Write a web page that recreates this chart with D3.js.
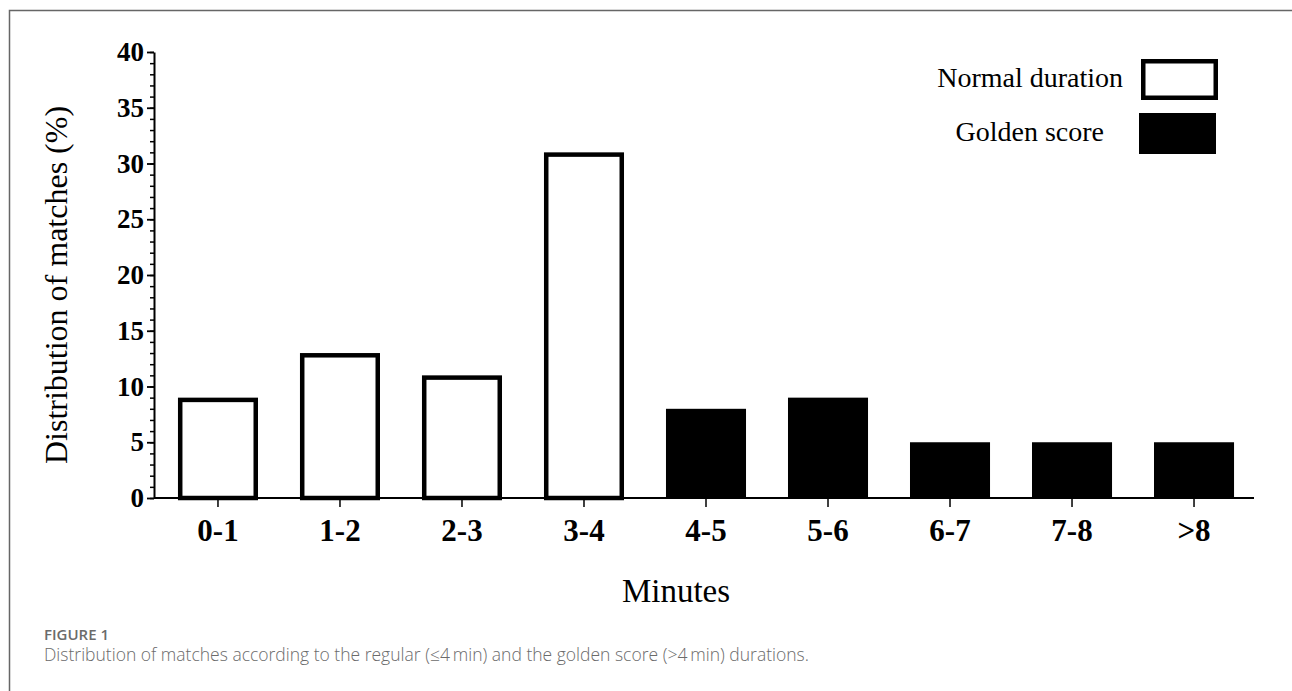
<!DOCTYPE html>
<html>
<head>
<meta charset="utf-8">
<script src="https://cdn.jsdelivr.net/npm/d3@7"></script>
<style>
  body { margin: 0; background: #fff; }
  svg { display: block; }
  .serif { font-family: "Liberation Serif", "Times New Roman", serif; fill: #000; }
  .caption { font-family: "Open Sans", "Noto Sans", sans-serif; }
</style>
</head>
<body>
<svg id="chart" width="1292" height="691"></svg>
<script>
// data
const categories = ["0-1", "1-2", "2-3", "3-4", "4-5", "5-6", "6-7", "7-8", ">8"];
const values = [9, 13, 11, 31, 8, 9, 5, 5, 5];
const groups = ["normal", "normal", "normal", "normal", "golden", "golden", "golden", "golden", "golden"];
const yTicks = [0, 5, 10, 15, 20, 25, 30, 35, 40];
const legendLabels = ["Normal duration", "Golden score"];
const legendKeys = ["normal", "golden"];

const svg = d3.select("#chart");
const BAR_STROKE = 4.5;

// frame (only top and left edges fall inside the picture)
svg.append("path")
  .attr("d", "M9.5,691 V10.5 H1292")
  .attr("fill", "none")
  .attr("stroke", "#666")
  .attr("stroke-width", 1.5);

const x = d3.scaleBand()
  .domain(categories)
  .range([156, 1256])
  .paddingInner(0.344)
  .paddingOuter(0.18);

const y = d3.scaleLinear().domain([0, 40]).range([498, 52]);

const rows = categories.map((c, i) => ({ cat: c, value: values[i], group: groups[i] }));

// bars
svg.append("g")
  .selectAll("rect")
  .data(rows)
  .enter()
  .append("rect")
  .attr("x", d => d.group === "normal" ? x(d.cat) + BAR_STROKE / 2 : x(d.cat))
  .attr("width", d => d.group === "normal" ? x.bandwidth() - BAR_STROKE : x.bandwidth())
  .attr("y", d => d.group === "normal" ? y(d.value) + BAR_STROKE / 2 : y(d.value))
  .attr("height", d => d.group === "normal" ? y(0) - y(d.value) - BAR_STROKE / 2 : y(0) - y(d.value))
  .attr("fill", d => d.group === "normal" ? "#fff" : "#000")
  .attr("stroke", d => d.group === "normal" ? "#000" : "none")
  .attr("stroke-width", BAR_STROKE);

// y axis: minor ticks then major ticks with labels
svg.append("g")
  .attr("transform", "translate(154,0)")
  .call(d3.axisLeft(y).tickValues(d3.range(0, 41, 1)).tickSize(4).tickFormat(""))
  .call(g => g.select(".domain").remove())
  .call(g => g.selectAll("line").attr("stroke", "#000").attr("stroke-width", 1.5));

const yAxis = svg.append("g")
  .attr("transform", "translate(154,0)")
  .call(d3.axisLeft(y).tickValues(yTicks).tickSize(7).tickSizeOuter(0).tickPadding(3));
yAxis.select(".domain").attr("stroke", "#000").attr("stroke-width", 2);
yAxis.selectAll("line").attr("stroke", "#000").attr("stroke-width", 1.8);
yAxis.selectAll("text")
  .attr("class", "serif")
  .attr("font-size", 27)
  .attr("font-weight", "bold");

// x axis
const xAxis = svg.append("g")
  .attr("transform", "translate(0,498)")
  .call(d3.axisBottom(x).tickSize(9).tickSizeOuter(0).tickPadding(12));
xAxis.select(".domain")
  .attr("d", "M154,0H1254")
  .attr("stroke", "#000")
  .attr("stroke-width", 2);
xAxis.selectAll("line").attr("stroke", "#000").attr("stroke-width", 1.5);
xAxis.selectAll("text")
  .attr("class", "serif")
  .attr("font-size", 31)
  .attr("font-weight", "bold");

// axis titles
svg.append("text")
  .attr("class", "serif")
  .attr("transform", "translate(67,285) rotate(-90)")
  .attr("text-anchor", "middle")
  .attr("font-size", 32)
  .text("Distribution of matches (%)");

svg.append("text")
  .attr("class", "serif")
  .attr("x", 676)
  .attr("y", 602)
  .attr("text-anchor", "middle")
  .attr("font-size", 33)
  .text("Minutes");

// legend
const legend = svg.append("g")
  .selectAll("g")
  .data(legendKeys)
  .enter()
  .append("g")
  .attr("transform", (d, i) => "translate(0," + i * 54 + ")");

legend.append("text")
  .attr("class", "serif")
  .attr("x", d => d === "normal" ? 1123 : 1104)
  .attr("y", 87)
  .attr("text-anchor", "end")
  .attr("font-size", 28)
  .text((d, i) => legendLabels[i]);

legend.append("rect")
  .attr("x", d => d === "normal" ? 1141 + BAR_STROKE / 2 : 1139)
  .attr("y", d => d === "normal" ? 59 + BAR_STROKE / 2 : 59)
  .attr("width", d => d === "normal" ? 77 - BAR_STROKE : 77)
  .attr("height", d => d === "normal" ? 41 - BAR_STROKE : 41)
  .attr("fill", d => d === "normal" ? "#fff" : "#000")
  .attr("stroke", d => d === "normal" ? "#000" : "none")
  .attr("stroke-width", BAR_STROKE);

// figure caption
svg.append("text")
  .attr("class", "caption")
  .attr("x", 44)
  .attr("y", 640)
  .attr("font-size", 15)
  .attr("font-weight", 600)
  .attr("fill", "#6b6b6b")
  .text("FIGURE 1");

svg.append("text")
  .attr("class", "caption")
  .attr("x", 44)
  .attr("y", 661)
  .attr("font-size", 17.5)
  .attr("font-weight", 300)
  .attr("fill", "#6b6b6b")
  .text("Distribution of matches according to the regular (≤4\u2009min) and the golden score (>4\u2009min) durations.");
</script>
</body>
</html>
